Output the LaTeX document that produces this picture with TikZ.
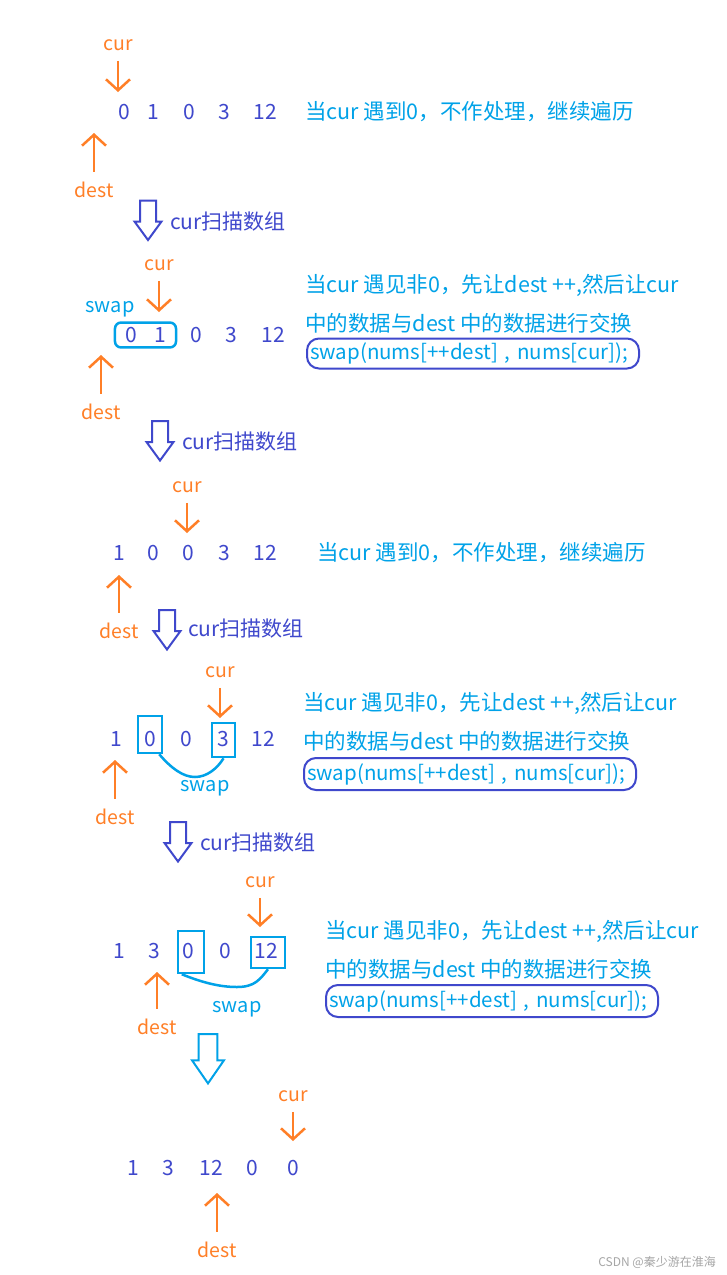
\documentclass[tikz,border=0pt]{standalone}
\usepackage{fontspec}
\setmainfont{Noto Sans CJK SC}
\usetikzlibrary{arrows.meta,fit}
\definecolor{ptrorange}{RGB}{255,127,39}
\definecolor{swapblue}{RGB}{0,162,232}
\definecolor{numindigo}{RGB}{63,72,204}
\tikzset{scanarrow/.pic={\draw[line width=2pt] (-8,0)--(8,0)--(8,21)--(13.5,21)--(0,39.5)--(-13.5,21)--(-8,21)--cycle;}}
\begin{document}
\begin{tikzpicture}[x=1pt,y=-1pt,
 num/.style={text=numindigo,inner sep=0pt,font=\fontsize{21}{24}\selectfont},
 lbl/.style={text=ptrorange,inner sep=1pt,font=\fontsize{19.5}{22}\selectfont},
 ptr/.style={draw=ptrorange,line width=2.5pt,shorten <=9pt,-{Straight Barb[length=11pt,width=24pt]}},
 explain/.style={text=swapblue,anchor=west,inner sep=0pt,font=\fontsize{21.5}{24}\selectfont},
 codebox/.style={explain,font=\fontsize{20.5}{24}\selectfont,draw=numindigo,line width=2pt,rounded corners=12pt,inner xsep=3pt,text width=326pt,minimum height=30pt},
 scan/.style={text=numindigo,anchor=west,inner sep=0pt,font=\fontsize{21}{24}\selectfont},
 swapbox/.style={draw=swapblue,line width=2.5pt,inner sep=0pt},
 swaplbl/.style={text=swapblue,inner sep=0pt,font=\fontsize{20}{22}\selectfont}]
 \fill[white] (0,0) rectangle (727,1275);
 \useasboundingbox (0,0) rectangle (727,1275);
 % row 1: cur meets 0
 \foreach \v/\x [count=\i] in {0/124,1/153,0/189,3/224,12/265} \node[num] (r1n\i) at (\x,112) {\v};
 \node[lbl] (cur1) at (118,45) {cur}; \coordinate (cur1t) at (118,92); \draw[ptr] (cur1)--(cur1t);
 \node[lbl] (dest1) at (94,190) {dest}; \coordinate (dest1t) at (94,133); \draw[ptr] (dest1)--(dest1t);
 \node[explain] (t1) at (305,112) {当cur 遇到0，不作处理，继续遍历};
 \pic[numindigo] at (148,200.5) {scanarrow}; \node[scan] (s1) at (170,221.5) {cur扫描数组};
 % row 2: swap 0 and 1
 \foreach \v/\x [count=\i] in {0/131,1/160,0/196,3/231,12/273} \node[num] (r2n\i) at (\x,335) {\v};
 \node[swapbox,rounded corners=6pt,inner xsep=10pt,inner ysep=4.5pt,fit=(r2n1)(r2n2)] (sw2) {};
 \node[swaplbl] (swl2) at (110,309) {swap};
 \node[lbl] (cur2) at (159,265) {cur}; \coordinate (cur2t) at (159,312); \draw[ptr] (cur2)--(cur2t);
 \node[lbl] (dest2) at (101,412) {dest}; \coordinate (dest2t) at (101,355); \draw[ptr] (dest2)--(dest2t);
 \node[explain] (t2a) at (305,285) {当cur 遇见非0，先让dest ++,然后让cur};
 \node[explain] (t2b) at (305,323) {中的数据与dest 中的数据进行交换};
 \node[codebox] (k2) at (306,353.5) {\mbox{swap(nums[++dest] , nums[cur]);}};
 \pic[numindigo] at (160,421) {scanarrow}; \node[scan] (s2) at (182,442) {cur扫描数组};
 % row 3: cur meets 0
 \foreach \v/\x [count=\i] in {1/119,0/153,0/188,3/224,12/265} \node[num] (r3n\i) at (\x,553) {\v};
 \node[lbl] (cur3) at (187,487) {cur}; \coordinate (cur3t) at (187,533); \draw[ptr] (cur3)--(cur3t);
 \node[lbl] (dest3) at (119,631) {dest}; \coordinate (dest3t) at (119,575); \draw[ptr] (dest3)--(dest3t);
 \node[explain] (t3) at (317,553) {当cur 遇到0，不作处理，继续遍历};
 \pic[numindigo] at (167,610) {scanarrow}; \node[scan] (s3) at (188,629) {cur扫描数组};
 % row 4: swap 0 and 3
 \foreach \v/\x [count=\i] in {1/116,0/150,0/186,3/223,12/263} \node[num] (r4n\i) at (\x,739) {\v};
 \node[swapbox,minimum width=24pt,minimum height=37pt] (b4a) at (150,734.5) {};
 \node[swapbox,minimum width=23pt,minimum height=34pt] (b4b) at (223.5,740) {};
 \draw[draw=swapblue,line width=2.5pt] ([xshift=-4pt]b4a.south east) .. controls +(12,14) and +(-12,0) .. (195,777) .. controls +(12,0) and +(-6,10) .. (b4b.south);
 \node[swaplbl] (swl4) at (205,788) {swap};
 \node[lbl] (cur4) at (220,672) {cur}; \coordinate (cur4t) at (220,718); \draw[ptr] (cur4)--(cur4t);
 \node[lbl] (dest4) at (115,817) {dest}; \coordinate (dest4t) at (115,760); \draw[ptr] (dest4)--(dest4t);
 \node[explain] (t4a) at (303,703) {当cur 遇见非0，先让dest ++,然后让cur};
 \node[explain] (t4b) at (303,741) {中的数据与dest 中的数据进行交换};
 \node[codebox,minimum height=32pt] (k4) at (303,774) {\mbox{swap(nums[++dest] , nums[cur]);}};
 \pic[numindigo] at (178,822) {scanarrow}; \node[scan] (s4) at (200,843) {cur扫描数组};
 % row 5: swap 0 and 12
 \foreach \v/\x [count=\i] in {1/119,3/154,0/188,0/225,12/266} \node[num] (r5n\i) at (\x,951) {\v};
 \node[swapbox,minimum width=26pt,minimum height=42pt] (b5a) at (191,952) {};
 \node[swapbox,minimum width=34pt,minimum height=31pt] (b5b) at (268,952.5) {};
 \draw[draw=swapblue,line width=2.5pt] ([xshift=5pt]b5a.south west) .. controls +(20,8) and +(-18,0) .. (237,987) .. controls +(18,0) and +(-8,10) .. (b5b.south);
 \node[swaplbl] (swl5) at (237,1009) {swap};
 \node[lbl] (cur5) at (260,882) {cur}; \coordinate (cur5t) at (260,927); \draw[ptr] (cur5)--(cur5t);
 \node[lbl] (dest5) at (157,1027) {dest}; \coordinate (dest5t) at (157,972); \draw[ptr] (dest5)--(dest5t);
 \node[explain] (t5a) at (325,931) {当cur 遇见非0，先让dest ++,然后让cur};
 \node[explain] (t5b) at (325,969) {中的数据与dest 中的数据进行交换};
 \node[codebox,minimum height=32pt] (k5) at (325,1001) {\mbox{swap(nums[++dest] , nums[cur]);}};
 \pic[swapblue,xscale=1.185,yscale=1.25] at (208,1034) {scanarrow};
 % row 6: result
 \foreach \v/\x [count=\i] in {1/133,3/168,12/211,0/252,0/293} \node[num] (r6n\i) at (\x,1168) {\v};
 \node[lbl] (cur6) at (293,1096) {cur}; \coordinate (cur6t) at (293,1141); \draw[ptr] (cur6)--(cur6t);
 \node[lbl] (dest6) at (217,1250) {dest}; \coordinate (dest6t) at (217,1193); \draw[ptr] (dest6)--(dest6t);
 \node[anchor=east,text=gray!70,inner sep=0pt,font=\fontsize{12}{14}\selectfont] (mark) at (716,1262) {CSDN @秦少游在淮海};
\end{tikzpicture}
\end{document}
